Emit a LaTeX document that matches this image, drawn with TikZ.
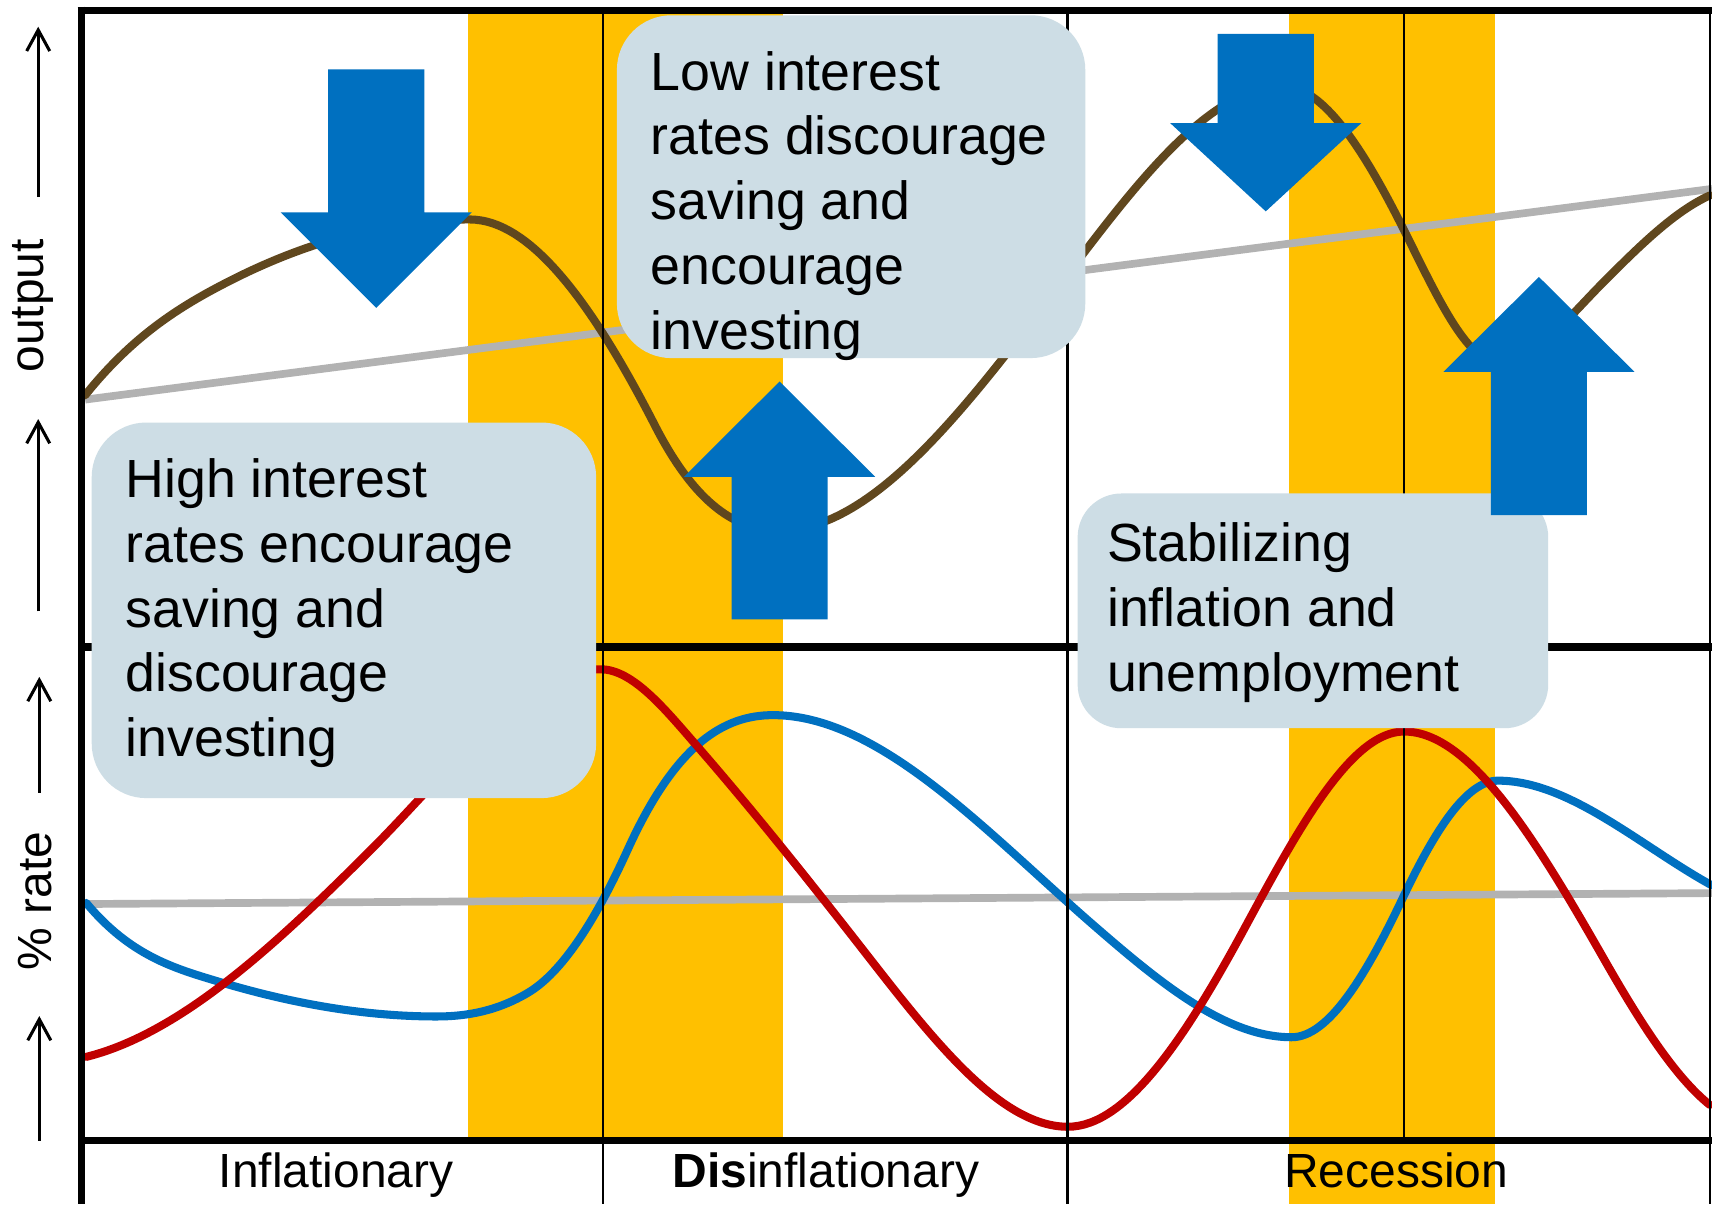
\documentclass[tikz,border=0pt]{standalone}
\usepackage{fontspec}
\setmainfont{Liberation Sans}
\usetikzlibrary{arrows.meta}
\definecolor{orangeband}{HTML}{FFC000}
\definecolor{curveblue}{HTML}{0070C0}
\definecolor{curvered}{HTML}{C00000}
\definecolor{curvebrown}{RGB}{96,71,30}
\definecolor{trendgray}{RGB}{178,178,178}
\definecolor{notefill}{RGB}{205,221,229}
\begin{document}
\begin{tikzpicture}[x=0.1mm, y=-0.1mm,
    note/.style = {fill=notefill, rounded corners=5mm, inner xsep=3.1mm, inner ysep=2.7mm, outer sep=0pt, anchor=north west, font=\fontsize{14}{16.9}\selectfont},
    lbl/.style = {font=\fontsize{12.5}{15}\selectfont, inner sep=0pt},
    frame/.style = {line width=2pt},
    thin/.style = {line width=0.6pt},
    trend/.style = {trendgray, line width=2pt},
    curve/.style = {line width=2.1pt, line cap=round},
    block/.style = {fill=curveblue},
    ax/.style = {line width=0.8pt, -{Straight Barb[length=5.5pt, width=6pt]}}]
    \fill[white] (0,0) rectangle (1568,1103);
    \useasboundingbox (0,0) rectangle (1568,1103);
    \fill[orangeband] (428.3,9.5) rectangle (717,1044.5);
    \fill[orangeband] (1180.5,9.5) rectangle (1369.6,1103);
    \draw[trend] (78,366) -- (1568,173);
    \draw[trend] (78,828) -- (1568,818);
    \draw[curve, curvebrown] (78,362) .. controls (123.7,304.9) and (169.3,277.9) .. (215,255)
        .. controls (286.7,219.2) and (358.3,201) .. (430,201)
        .. controls (486.7,201) and (543.3,279.5) .. (600,390)
        .. controls (638,464.1) and (676,486) .. (714,486)
        .. controls (809.3,486) and (904.7,345.9) .. (1000,222)
        .. controls (1058.3,146.2) and (1116.7,79) .. (1175,79)
        .. controls (1212,79) and (1249,137) .. (1286,211)
        .. controls (1314.7,268.3) and (1343.3,332) .. (1372,332)
        .. controls (1404.7,332) and (1437.3,289.7) .. (1470,257)
        .. controls (1502,225) and (1534,193.4) .. (1566,179);
    \draw[curve, curveblue] (79,827) .. controls (119.3,875.4) and (159.7,886.9) .. (200,899)
        .. controls (266.7,919) and (333.3,931) .. (400,931)
        .. controls (428,931) and (456,925.8) .. (484,909)
        .. controls (514.3,890.8) and (544.7,844.7) .. (575,778)
        .. controls (619.3,680.5) and (663.7,655) .. (708,655)
        .. controls (805.3,655) and (902.7,761.3) .. (1000,846)
        .. controls (1061,899) and (1122,950) .. (1183,950)
        .. controls (1217,950) and (1251,893.4) .. (1285,822)
        .. controls (1314,761.1) and (1343,715) .. (1372,715)
        .. controls (1437.3,715) and (1502.7,775.1) .. (1568,811);
    \draw[curve, curvered] (79,968) .. controls (166,946.25) and (253,865) .. (340,778)
        .. controls (410,708) and (480,613) .. (550,613)
        .. controls (579.7,613) and (609.3,649.9) .. (639,684)
        .. controls (687.7,740) and (736.3,800.7) .. (785,863)
        .. controls (849.3,945.3) and (913.7,1032) .. (978,1032)
        .. controls (1032,1032) and (1086,949.9) .. (1140,850)
        .. controls (1188.7,760) and (1237.3,670) .. (1286,670)
        .. controls (1347.3,670) and (1408.7,772.7) .. (1470,880)
        .. controls (1502,936) and (1534,986.4) .. (1566,1012);
    \foreach \x in {552.5,977.7,1566}
        \draw[thin] (\x,9.5) -- (\x,1103);
    \draw[thin] (1285.7,9.5) -- (1285.7,1044.5);
    \draw[frame] (74.5,6) -- (74.5,1103);
    \draw[frame] (71,9.5) -- (1568,9.5);
    \draw[frame] (74.5,592.6) -- (1568,592.6);
    \draw[frame] (74.5,1044.5) -- (1568,1044.5);
    \node[note] (high) at (84,387) {\parbox[c][29mm][t]{40mm}{\strut High interest\\rates encourage\\saving and\\discourage\\investing}};
    \node[note] (low) at (565,14) {\parbox[c][26mm][t]{36.7mm}{\strut Low interest\\rates discourage\\saving and\\encourage\\investing}};
    \node[note, rounded corners=4mm, inner xsep=2.7mm, inner ysep=2.1mm] (stab) at (987,452) {\parbox[c][17.3mm][t]{37.7mm}{\strut Stabilizing\\inflation and\\unemployment}};
    \foreach \x/\a/\b/\t in {344.6/282/194.6/63.5, 714/349.4/436.7/567.2, 1159.3/193.6/112.8/31.1, 1409.5/253.7/340.6/471.7}
        \fill[block] (\x,\a) -- (\x+87.5,\b) -- (\x+44,\b) -- (\x+44,\t) -- (\x-44,\t) -- (\x-44,\b) -- (\x-87.5,\b) -- cycle;
    \node[lbl, anchor=base] (infl) at (308,1087.6) {Inflationary};
    \node[lbl, anchor=base] (disinfl) at (756.5,1087.6) {\textbf{Dis}inflationary};
    \node[lbl, anchor=base] (rec) at (1278.8,1087.6) {Recession};
    \node[lbl, rotate=90] (out) at (30,280) {output};
    \node[lbl, rotate=90] (rate) at (32.5,825) {\% rate};
    \draw[ax] (35,180.5) -- (35,24.5);
    \draw[ax] (35,560) -- (35,383.8);
    \draw[ax] (36,726) -- (36,620);
    \draw[ax] (36,1045) -- (36,930.6);
\end{tikzpicture}
\end{document}
